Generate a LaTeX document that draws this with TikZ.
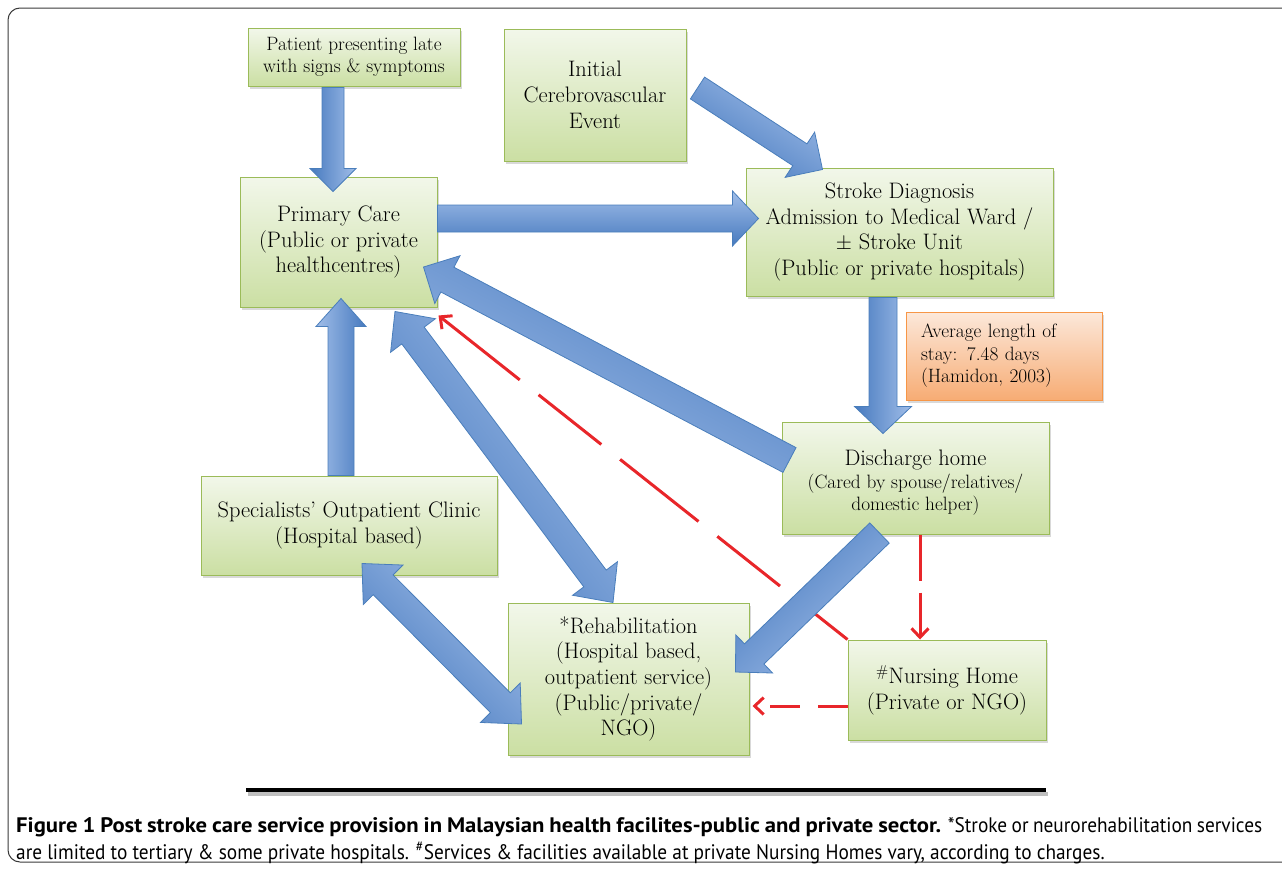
\documentclass[tikz,border=0pt]{standalone}
\usepackage{fontspec}
\newfontfamily\capfont[FakeStretch=0.92, BoldFeatures={FakeStretch=1.08}]{PT Sans}
\usetikzlibrary{arrows.meta}
\usetikzlibrary{calc}
\usetikzlibrary{shadows}

\definecolor{boxtop}{HTML}{F2F7EA}
\definecolor{boxbot}{HTML}{CBDFA3}
\definecolor{boxline}{HTML}{9BBB59}
\definecolor{notetop}{HTML}{FCE8DA}
\definecolor{notebot}{HTML}{F7AC74}
\definecolor{noteline}{HTML}{F79646}
\definecolor{arrlight}{HTML}{A0BDE8}
\definecolor{arrdark}{HTML}{477ABF}
\definecolor{arrline}{HTML}{4A7EBB}
\definecolor{dashred}{HTML}{E8262A}
\definecolor{framegray}{HTML}{3A3A3A}

\newcommand\smallsize{\fontsize{19.3}{22}\selectfont}

\tikzset{
  careBox/.style={draw=boxline, line width=1pt, top color=boxtop, bottom color=boxbot,
    drop shadow={opacity=0.3, shadow xshift=2pt, shadow yshift=-2.5pt},
    align=center, inner sep=0pt, font=\fontsize{22.4}{25.7}\selectfont},
  noteBox/.style={careBox, draw=noteline, top color=notetop, bottom color=notebot,
    align=left, font=\fontsize{19.3}{22.5}\selectfont},
  smallText/.style={font=\fontsize{19.3}{22}\selectfont},
  blueArrow/.style={draw=arrline, line width=0.8pt, top color=arrlight,
    bottom color=arrdark, shading angle=#1},
  % block arrow: shaft half width, head half width, head length
  fatArrow/.style n args={3}{to path={
    let \p1=(\tikztostart), \p2=(\tikztotarget),
        \n1={atan2(\y2-\y1,\x2-\x1)}, \n2={veclen(\x2-\x1,\y2-\y1)} in
    {[shift={(\p1)}, rotate=\n1]
      (0,-#1) -- (\n2-#3,-#1) -- (\n2-#3,-#2) -- (\n2,0)
      -- (\n2-#3,#2) -- (\n2-#3,#1) -- (0,#1) -- cycle}}},
  fatBoth/.style n args={3}{to path={
    let \p1=(\tikztostart), \p2=(\tikztotarget),
        \n1={atan2(\y2-\y1,\x2-\x1)}, \n2={veclen(\x2-\x1,\y2-\y1)} in
    {[shift={(\p1)}, rotate=\n1]
      (0,0) -- (#3,-#2) -- (#3,-#1) -- (\n2-#3,-#1) -- (\n2-#3,-#2) -- (\n2,0)
      -- (\n2-#3,#2) -- (\n2-#3,#1) -- (#3,#1) -- (#3,#2) -- cycle}}},
  redDash/.style={draw=dashred, line width=3pt},
  redTip/.style={-{Straight Barb[length=9pt,width=17pt]}},
  redTipBack/.style={{Straight Barb[length=9pt,width=17pt]}-}
}

\begin{document}
\begin{tikzpicture}[x=1pt,y=-1pt]
\useasboundingbox (0,0) rectangle (1282,870);
\draw[framegray, line width=1pt, rounded corners=12pt] (1300,8) -- (8,8) -- (8,862) -- (1300,862);

% boxes
\node[careBox, smallText, minimum width=212pt, minimum height=58pt] (pat) at (354,57)
  {Patient presenting late\\with signs \& symptoms};
\node[careBox, minimum width=182pt, minimum height=132pt] (init) at (595,95)
  {Initial\\Cerebrovascular\\Event};
\node[careBox, minimum width=197pt, minimum height=130pt] (prim) at (338.5,242)
  {Primary Care\\(Public or private\\healthcentres)};
\node[careBox, minimum width=307pt, minimum height=128pt] (stroke) at (899.5,232)
  {Stroke Diagnosis\\Admission to Medical Ward /\\$\pm$ Stroke Unit\\(Public or private hospitals)};
\node[noteBox, minimum width=196pt, minimum height=88pt, text width=166pt] (stay) at (1004,356)
  {Average length of\\stay: 7.48 days\\(Hamidon, 2003)};
\node[careBox, minimum width=267pt, minimum height=112pt] (dis) at (915.5,478)
  {\rule{0pt}{8pt}\\[-8pt]Discharge home\\[-3pt]{\smallsize (Cared by spouse/relatives/}\\[-3.5pt]{\smallsize domestic helper)}};
\node[careBox, minimum width=296pt, minimum height=99pt] (spec) at (349,525.5)
  {Specialists’ Outpatient Clinic\\(Hospital based)};
\node[careBox, minimum width=241pt, minimum height=152pt] (rehab) at (628.5,679)
  {*Rehabilitation\\(Hospital based,\\outpatient service)\\(Public/private/\\NGO)};
\node[careBox, minimum width=198pt, minimum height=100pt] (nurse) at (947,690)
  {\textsuperscript{\#}Nursing Home\\(Private or NGO)};

% red dashed links
\draw[redDash, redTipBack, dash pattern=on 100pt off 24pt on 80pt off 24pt]
  ($(prim.south east)+(1,8)$) -- (nurse.north west);
\draw[redDash, redTip, dash pattern=on 46pt off 12pt]
  ($(dis.south)+(4.5,0)$) -- ($(nurse.north)+(-27,0)$);
\draw[redDash, redTip, dash pattern=on 30pt off 18pt]
  ($(nurse.west)+(0,16)$) -- ($(rehab.east)+(3,27)$);

% block arrows
\path[blueArrow=-90] ($(pat.south)+(-21,1)$) to[fatArrow={11}{23}{23}] ($(prim.north)+(-5.5,15)$);
\path[blueArrow=-33] ($(init.east)+(11,-7)$) to[fatArrow={13}{27}{27}] ($(stroke.north west)+(77,2)$);
\path[blueArrow=0] ($(prim.east)+(0,-23.5)$) to[fatArrow={13.5}{27.5}{26}] ($(stroke.west)+(13,-13.5)$);
\path[blueArrow=-90] ($(stroke.south)+(-16.5,1)$) to[fatArrow={14}{28.5}{27}] ($(dis.north)+(-32.5,12)$);
\path[blueArrow=152] ($(dis.west)+(8,-18)$) to[fatArrow={14}{27}{27}] ($(prim.east)+(-14,25)$);
\path[blueArrow=-53] ($(prim.south)+(56.5,4)$) to[fatBoth={14}{28}{30}] ($(rehab.north)+(-15.5,0)$);
\path[blueArrow=90] ($(spec.north)+(-8,0)$) to[fatArrow={13}{25}{28}] ($(prim.south)+(2.5,-9)$);
\path[blueArrow=-45] ($(spec.south)+(13,-12)$) to[fatBoth={14}{28}{30}] ($(rehab.west)+(14,45)$);
\path[blueArrow=-136] ($(dis.south)+(-36,-1.5)$) to[fatArrow={14}{26.5}{26}] ($(rehab.east)+(-14,-7)$);

% rule and caption
\draw[gray!50, line width=4pt] (248,794) -- (1048,794);
\draw[black, line width=4pt] (246,790) -- (1046,790);
\node[anchor=north west, align=justify, text width=1246pt, inner sep=0pt,
      font=\capfont\fontsize{21}{27}\selectfont] (cap) at (16,817)
  {{\bfseries Figure 1 Post stroke care service provision in Malaysian health facilites-public and private sector.} *Stroke or neurorehabilitation services\linebreak
   are limited to tertiary \& some private hospitals. \textsuperscript{\#}Services \& facilities available at private Nursing Homes vary, according to charges.\par};
\end{tikzpicture}
\end{document}
